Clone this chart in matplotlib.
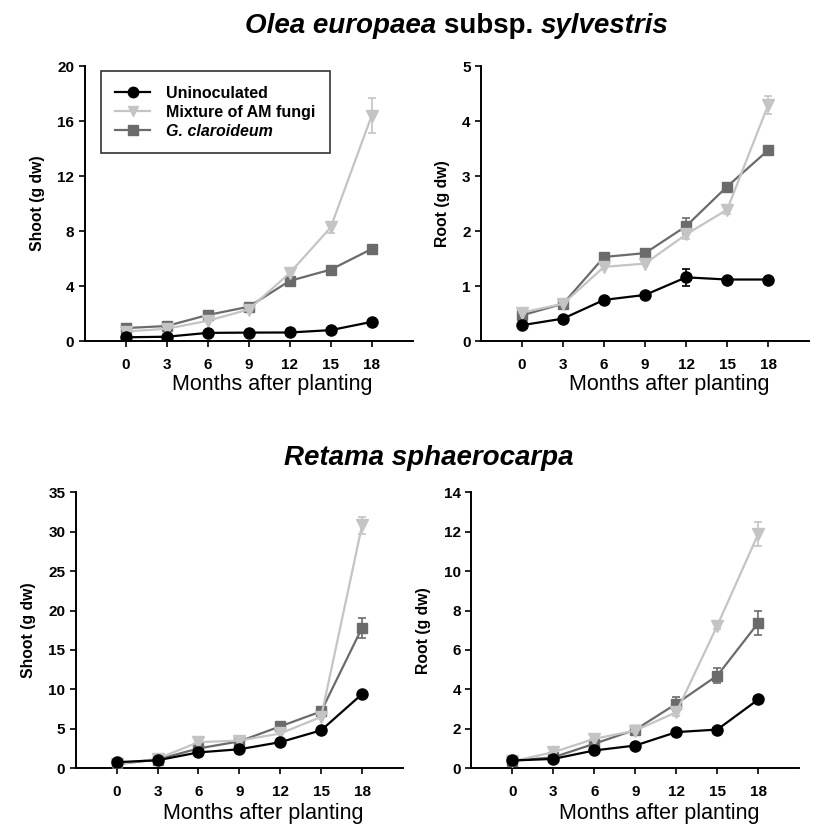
import numpy as np
import matplotlib
matplotlib.use("Agg")
import matplotlib.pyplot as plt
from matplotlib.lines import Line2D

plt.rcParams["font.family"] = ["Liberation Sans", "DejaVu Sans"]

months = [0, 3, 6, 9, 12, 15, 18]
series_names = ["Uninoculated", "Mixture of AM fungi", "G. claroideum"]

# Olea europaea subsp. sylvestris
olea_shoot = [
    [0.28, 0.32, 0.6, 0.62, 0.63, 0.8, 1.4],
    [0.7, 0.9, 1.48, 2.3, 4.95, 8.27, 16.4],
    [0.95, 1.1, 1.9, 2.5, 4.38, 5.2, 6.7],
]
olea_shoot_err = [
    [0, 0, 0, 0, 0, 0, 0],
    [0, 0, 0, 0, 0, 0.4, 1.25],
    [0, 0, 0, 0, 0, 0, 0],
]
olea_root = [
    [0.29, 0.41, 0.75, 0.84, 1.16, 1.12, 1.12],
    [0.52, 0.68, 1.35, 1.41, 1.94, 2.39, 4.29],
    [0.47, 0.68, 1.53, 1.6, 2.09, 2.81, 3.47],
]
olea_root_err = [
    [0, 0, 0, 0, 0.16, 0, 0],
    [0, 0, 0, 0, 0.08, 0.08, 0.16],
    [0, 0, 0, 0, 0.15, 0, 0],
]

# Retama sphaerocarpa
retama_shoot = [
    [0.76, 1.0, 2.0, 2.4, 3.3, 4.8, 9.4],
    [0.5, 1.2, 3.3, 3.5, 4.4, 6.5, 30.8],
    [0.5, 1.1, 2.5, 3.4, 5.3, 7.2, 17.8],
]
retama_shoot_err = [
    [0, 0, 0, 0, 0, 0, 0],
    [0, 0, 0, 0, 0, 0, 1.1],
    [0, 0, 0, 0, 0, 0, 1.3],
]
retama_root = [
    [0.39, 0.47, 0.9, 1.15, 1.83, 1.96, 3.49],
    [0.35, 0.81, 1.49, 1.91, 2.84, 7.24, 11.9],
    [0.38, 0.55, 1.24, 1.95, 3.27, 4.7, 7.38],
]
retama_root_err = [
    [0, 0, 0, 0, 0, 0, 0],
    [0, 0, 0, 0, 0.2, 0.2, 0.6],
    [0, 0, 0, 0, 0.35, 0.4, 0.6],
]

COLORS = ["#000000", "#c4c4c4", "#6b6b6b"]
MARKERS = ["o", "v", "s"]
MSIZE = [8, 8, 7.5]

fig = plt.figure(figsize=(8.14, 8.26), dpi=100)


def panel(rect, data, err, ylim, yticks, ylabel, legend=False, label_y=-0.118):
    ax = fig.add_axes(rect)
    for i in range(3):
        e = np.array(err[i], dtype=float)
        ax.errorbar(months, data[i], yerr=np.where(e > 0, e, np.nan),
                    color=COLORS[i], marker=MARKERS[i], markersize=MSIZE[i],
                    lw=1.6, elinewidth=1.2, capsize=3, capthick=1.2,
                    zorder=3 + (2 - i))
    ax.set_xlim(-3, 21)
    ax.set_ylim(*ylim)
    ax.set_xticks(months)
    ax.set_yticks(yticks)
    for s in ["top", "right"]:
        ax.spines[s].set_visible(False)
    for s in ["left", "bottom"]:
        ax.spines[s].set_linewidth(1.4)
    ax.tick_params(axis="both", labelsize=11, width=1.2, length=4)
    ax.tick_params(axis="x", pad=8)
    for lab in ax.get_xticklabels() + ax.get_yticklabels():
        lab.set_fontweight("bold")
    ax.set_ylabel(ylabel, fontsize=11.3, fontweight="bold", labelpad=9)
    ax.set_xlabel("Months after planting", fontsize=15.5)
    ax.xaxis.set_label_coords(0.573, label_y)
    if legend:
        handles = [Line2D([0], [0], color=COLORS[i], marker=MARKERS[i],
                          markersize=MSIZE[i] - 0.5, lw=1.6)
                   for i in range(3)]
        leg = ax.legend(handles, series_names, loc="upper left",
                        bbox_to_anchor=(0.025, 1.01),
                        fontsize=11.5, frameon=True, fancybox=False,
                        edgecolor="black", borderpad=0.9, handlelength=2.2,
                        handletextpad=1.0, labelspacing=0.25)
        leg.get_frame().set_linewidth(1.2)
        for i, t in enumerate(leg.get_texts()):
            t.set_fontweight("bold")
            if i == 2:
                t.set_style("italic")
    return ax


panel([0.104, 0.587, 0.403, 0.333], olea_shoot, olea_shoot_err,
      (0, 20), [0, 4, 8, 12, 16, 20], "Shoot (g dw)", legend=True)
panel([0.591, 0.587, 0.403, 0.333], olea_root, olea_root_err,
      (0, 5), [0, 1, 2, 3, 4, 5], "Root (g dw)")
panel([0.093, 0.070, 0.402, 0.334], retama_shoot, retama_shoot_err,
      (0, 35), [0, 5, 10, 15, 20, 25, 30, 35], "Shoot (g dw)", label_y=-0.127)
panel([0.579, 0.070, 0.403, 0.334], retama_root, retama_root_err,
      (0, 14), [0, 2, 4, 6, 8, 10, 12, 14], "Root (g dw)", label_y=-0.127)


def mixed_title(pieces, xc, y, size=20):
    # draw text pieces side by side, centred at xc (figure fraction)
    fig.canvas.draw()
    r = fig.canvas.get_renderer()
    texts = []
    x = 0
    for s, style in pieces:
        t = fig.text(x, y, s, fontsize=size, fontweight="bold", style=style,
                     ha="left", va="baseline")
        bb = t.get_window_extent(renderer=r)
        texts.append((t, bb.width))
        x += bb.width / fig.bbox.width
    total = x
    x0 = xc - total / 2
    for t, w in texts:
        t.set_x(x0)
        x0 += w / fig.bbox.width


mixed_title([("Olea europaea ", "italic"), ("subsp. ", "normal"),
             ("sylvestris", "italic")], 0.561, 1 - 33 / 826)
mixed_title([("Retama sphaerocarpa", "italic")], 0.527, 1 - 465 / 826)

fig.savefig("out.png", dpi=100)
